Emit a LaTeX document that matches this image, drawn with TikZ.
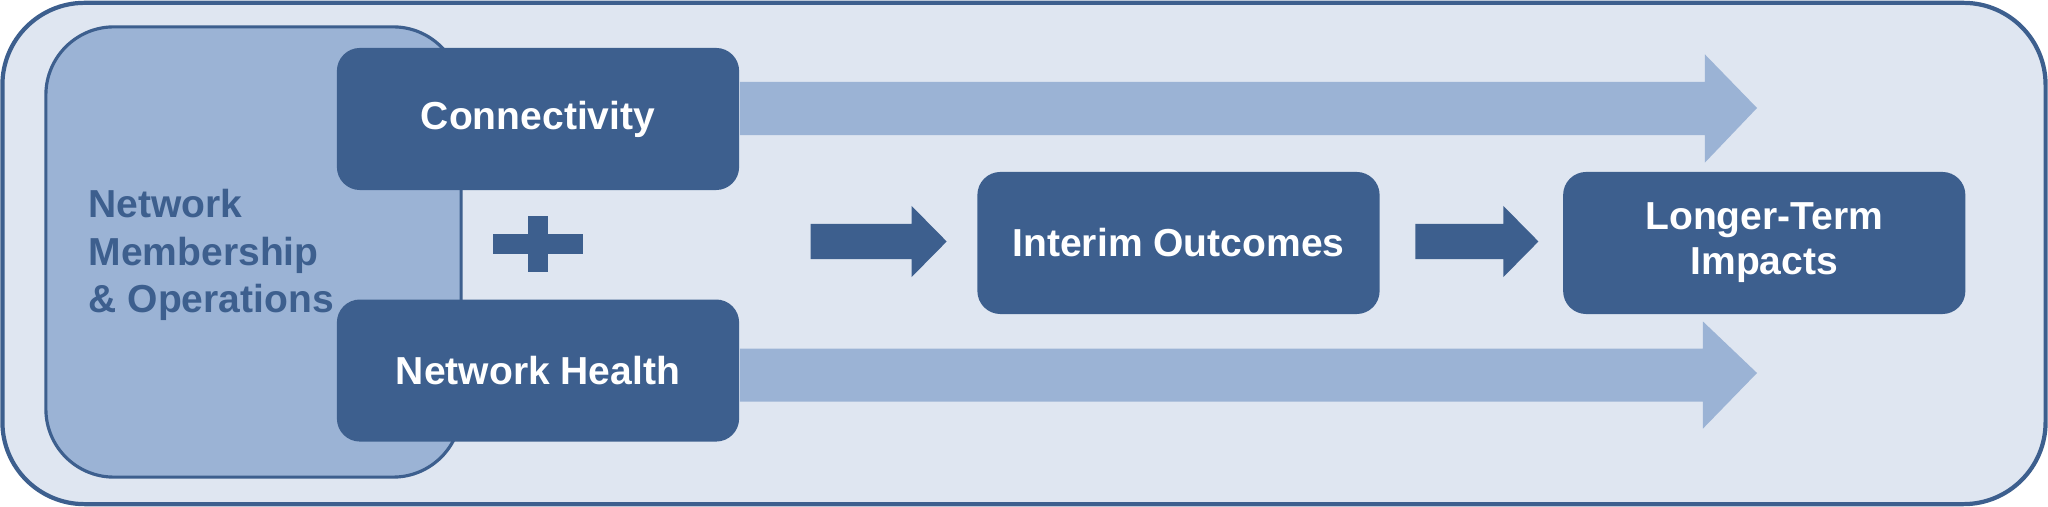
\documentclass[tikz,border=0pt]{standalone}
\usepackage{fontspec}
\setmainfont{Liberation Sans}
\usetikzlibrary{positioning,calc}
\definecolor{navy}{HTML}{3D5F8E}
\definecolor{steel}{HTML}{9BB3D5}
\definecolor{pale}{HTML}{DFE6F1}
\tikzset{
  % Outcome box: white bold label on dark fill
  obox/.style={fill=navy, rounded corners=0.23cm, minimum width=4.02cm, minimum height=1.42cm,
               inner sep=0pt, align=center, text=white, font=\fontsize{11.1}{12.8}\selectfont\bfseries},
  % Outer frame and membership panel
  frame/.style={draw=navy, fill=pale, line width=1.2pt, rounded corners=0.82cm,
                minimum width=20.42cm, minimum height=5.01cm},
  memberbox/.style={draw=navy, fill=steel, line width=0.9pt, rounded corners=0.68cm,
                    minimum width=4.15cm, minimum height=4.5cm},
  memtext/.style={text=navy, align=left, inner sep=0pt, font=\fontsize{11.1}{13.5}\selectfont\bfseries},
  % Block arrow: shaft half width, head half width, head length
  blockarr/.style n args={3}{to path={
      let \p1=(\tikztostart), \p2=(\tikztotarget) in
      (\x1,\y1+#1) -- (\x2-#3,\y1+#1) -- (\x2-#3,\y1+#2) -- (\tikztotarget)
      -- (\x2-#3,\y1-#2) -- (\x2-#3,\y1-#1) -- (\x1,\y1-#1) -- cycle}}
}

\begin{document}
\begin{tikzpicture}[x=0.01cm, y=-0.01cm]
\useasboundingbox (0,0) rectangle (2048,507);

% ============== Frame and membership panel ==============
\node[frame] (frame) at (1024,253.5) {};
\node[memberbox] (member) at (253.5,252) {};
\node[memtext, anchor=west] (memtxt) at (88,255) {Network\\Membership\\\& Operations};

% ============== Left column ==============
\node[obox] (conn) at (538,119) {Connectivity};
\node[obox, below=1.08cm of conn] (health) {Network Health};

% plus sign
\coordinate (plus) at (538,244);
\fill[navy] ($(plus)+(-45,-10)$) rectangle ($(plus)+(45,10)$);
\fill[navy] ($(plus)+(-10,-28)$) rectangle ($(plus)+(10,28)$);

% ============== Outcome chain ==============
\node[obox] (interim) at (1178.5,243) {Interim Outcomes};
\node[obox, right=1.82cm of interim] (longer) {Longer-Term\\Impacts};

% ============== Long light arrows ==============
\coordinate (toptip) at (1757,108);
\coordinate (bottip) at (1757,373);
\fill[steel] ($(conn.east)+(0,-10.5)$) to[blockarr={0.265cm}{0.54cm}{0.52cm}] (toptip);
\fill[steel] ($(health.east)+(0,4.5)$) to[blockarr={0.265cm}{0.535cm}{0.54cm}] (bottip);

% ============== Short dark arrows ==============
\fill[navy] ($(interim.west)+(-166,-1.5)$) to[blockarr={0.175cm}{0.355cm}{0.35cm}] ($(interim.west)+(-30,-1.5)$);
\fill[navy] ($(interim.east)+(35,-1.5)$) to[blockarr={0.175cm}{0.355cm}{0.35cm}] ($(longer.west)+(-24,-1.5)$);

\end{tikzpicture}
\end{document}
